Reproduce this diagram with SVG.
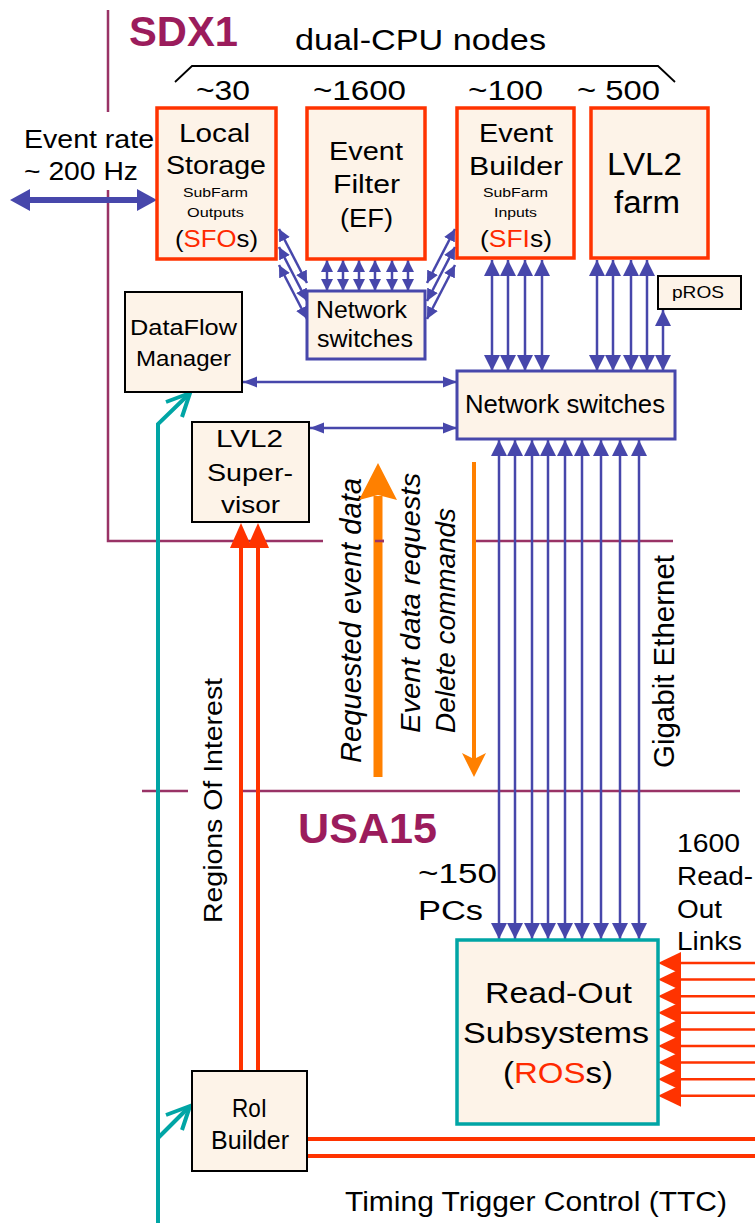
<svg xmlns="http://www.w3.org/2000/svg" width="755" height="1223" viewBox="0 0 755 1223">
<style>
text{font-family:"Liberation Sans",Arial,Helvetica,sans-serif;fill:#000}
.rd{fill:#ff2a00}
.ttl{font-weight:bold;fill:#9b1c5c}
.rb{fill:#fdf3e8;stroke:#ff3300;stroke-width:3.5}
.bb{fill:#fdf3e8;stroke:#4747ab;stroke-width:3}
.kb{fill:#fdf3e8;stroke:#000;stroke-width:2}
.tb{fill:#fdf3e8;stroke:#00a5a5;stroke-width:3.5}
.bl{stroke:#4747ab;fill:none;stroke-width:2.5}
.bnd{stroke:#993366;stroke-width:2.5;fill:none}
.tl{stroke:#00a5a5;stroke-width:4;fill:none}
.rl{stroke:#ff3300;stroke-width:4;fill:none}
.rl2{stroke:#ff3300;stroke-width:2.5;fill:none}
.it{font-style:italic}
</style>
<defs>
<marker id="mb" markerUnits="userSpaceOnUse" markerWidth="16" markerHeight="16" refX="16" refY="8" orient="auto-start-reverse"><path d="M0,0 L16,8 L0,16 z" fill="#4747ab"/></marker>
<marker id="ms" markerUnits="userSpaceOnUse" markerWidth="12" markerHeight="12" refX="12" refY="6" orient="auto-start-reverse"><path d="M0,0 L12,6 L0,12 z" fill="#4747ab"/></marker>
<marker id="mh" markerUnits="userSpaceOnUse" markerWidth="14" markerHeight="12" refX="14" refY="6" orient="auto-start-reverse"><path d="M0,0.5 L14,6 L0,11.5 z" fill="#4747ab"/></marker>
</defs>

<g id="boundaries">
<path class="bnd" d="M108,10 V112 M108,190 V541 H323 M375,541 H384 M472,541 H673"/>
<path class="bnd" d="M142,791 H188 M243,791 H740"/>
<text class="ttl" x="129" y="46" font-size="42" textLength="109" lengthAdjust="spacingAndGlyphs">SDX1</text>
<text class="ttl" x="298" y="843" font-size="42" textLength="139" lengthAdjust="spacingAndGlyphs">USA15</text>
</g>

<g id="labels">
<text x="295" y="50" font-size="30" textLength="251" lengthAdjust="spacingAndGlyphs">dual-CPU nodes</text>
<path d="M175,82 L192,66 H658 L675,82" fill="none" stroke="#000" stroke-width="1.8"/>
<text x="196" y="100" font-size="27" textLength="54" lengthAdjust="spacingAndGlyphs">~30</text>
<text x="313" y="100" font-size="27" textLength="93" lengthAdjust="spacingAndGlyphs">~1600</text>
<text x="468" y="100" font-size="27" textLength="75" lengthAdjust="spacingAndGlyphs">~100</text>
<text x="577" y="100" font-size="27" textLength="83" lengthAdjust="spacingAndGlyphs">~ 500</text>
<text x="24" y="148" font-size="25" textLength="130" lengthAdjust="spacingAndGlyphs">Event rate</text>
<text x="24" y="180" font-size="25" textLength="114" lengthAdjust="spacingAndGlyphs">~ 200 Hz</text>
<text x="418" y="883" font-size="27" textLength="79" lengthAdjust="spacingAndGlyphs">~150</text>
<text x="418" y="920" font-size="27" textLength="65" lengthAdjust="spacingAndGlyphs">PCs</text>
<text x="677" y="852" font-size="25" textLength="63" lengthAdjust="spacingAndGlyphs">1600</text>
<text x="677" y="885" font-size="25" textLength="76" lengthAdjust="spacingAndGlyphs">Read-</text>
<text x="677" y="918" font-size="25" textLength="45" lengthAdjust="spacingAndGlyphs">Out</text>
<text x="677" y="950" font-size="25" textLength="65" lengthAdjust="spacingAndGlyphs">Links</text>
<text x="345" y="1211" font-size="27" textLength="382" lengthAdjust="spacingAndGlyphs">Timing Trigger Control (TTC)</text>
<text transform="translate(674,768) rotate(-90)" font-size="30" textLength="213" lengthAdjust="spacingAndGlyphs">Gigabit Ethernet</text>
<text transform="translate(222,923) rotate(-90)" font-size="26" textLength="245" lengthAdjust="spacingAndGlyphs">Regions Of Interest</text>
<text class="it" transform="translate(361,763) rotate(-90)" font-size="29" textLength="285" lengthAdjust="spacingAndGlyphs">Requested event data</text>
<text class="it" transform="translate(420,733) rotate(-90)" font-size="28" textLength="260" lengthAdjust="spacingAndGlyphs">Event data requests</text>
<text class="it" transform="translate(455,733) rotate(-90)" font-size="28" textLength="225" lengthAdjust="spacingAndGlyphs">Delete commands</text>
</g>

<g id="connectors">
<!-- event rate -->
<line x1="28" y1="200" x2="140" y2="200" stroke="#4747ab" stroke-width="6"/>
<polygon points="10,200 30,189 30,211" fill="#4747ab"/>
<polygon points="157,200 137,189 137,211" fill="#4747ab"/>
<!-- EF to small switch -->
<g class="bl" marker-start="url(#ms)" marker-end="url(#ms)">
<line x1="327" y1="260" x2="327" y2="291"/>
<line x1="343" y1="260" x2="343" y2="291"/>
<line x1="359" y1="260" x2="359" y2="291"/>
<line x1="375" y1="260" x2="375" y2="291"/>
<line x1="392" y1="260" x2="392" y2="291"/>
<line x1="408" y1="260" x2="408" y2="291"/>
<line x1="279" y1="229" x2="307" y2="283"/>
<line x1="279" y1="247" x2="307" y2="301"/>
<line x1="279" y1="265" x2="307" y2="319"/>
<line x1="455" y1="229" x2="427" y2="283"/>
<line x1="455" y1="247" x2="427" y2="301"/>
<line x1="455" y1="265" x2="427" y2="319"/>
</g>
<!-- SFI / LVL2 to big switch -->
<g class="bl" marker-start="url(#mb)" marker-end="url(#mb)">
<line x1="492" y1="260" x2="492" y2="371"/>
<line x1="508" y1="260" x2="508" y2="371"/>
<line x1="525" y1="260" x2="525" y2="371"/>
<line x1="542" y1="260" x2="542" y2="371"/>
<line x1="597" y1="260" x2="597" y2="371"/>
<line x1="613" y1="260" x2="613" y2="371"/>
<line x1="631" y1="260" x2="631" y2="371"/>
<line x1="647" y1="260" x2="647" y2="371"/>
<line x1="663" y1="310" x2="663" y2="371"/>
<line x1="499" y1="440" x2="499" y2="939"/>
<line x1="515" y1="440" x2="515" y2="939"/>
<line x1="532" y1="440" x2="532" y2="939"/>
<line x1="548" y1="440" x2="548" y2="939"/>
<line x1="565" y1="440" x2="565" y2="939"/>
<line x1="582" y1="440" x2="582" y2="939"/>
<line x1="601" y1="440" x2="601" y2="939"/>
<line x1="620" y1="440" x2="620" y2="939"/>
<line x1="639" y1="440" x2="639" y2="939"/>
</g>
<g class="bl" stroke-width="2" marker-start="url(#mh)" marker-end="url(#mh)">
<line x1="243" y1="382" x2="457" y2="382"/>
<line x1="310" y1="428" x2="457" y2="428"/>
</g>
<!-- orange arrows -->
<rect x="373.5" y="496" width="9" height="281" fill="#ff8000"/>
<polygon points="378,463 397,500 378,495 359,500" fill="#ff8000"/>
<line x1="474" y1="462" x2="474" y2="762" stroke="#ff8000" stroke-width="4"/>
<polygon points="474,777 462,753 474,759 486,753" fill="#ff8000"/>
<path class="bnd" d="M375,541 H384"/>
<!-- red: RoI to supervisor -->
<path class="rl" d="M241,1071 V544 M258,1071 V544"/>
<polygon points="241,523 252,548 230,548" fill="#ff3300"/>
<polygon points="258,523 269,548 247,548" fill="#ff3300"/>
<!-- red: RoI builder to right -->
<path class="rl" d="M307,1139 H755 M307,1156 H755"/>
<!-- red: read-out links -->
<g>
<path class="rl2" d="M676,963 H755 M676,979.6 H755 M676,996.2 H755 M676,1012.8 H755 M676,1029.4 H755 M676,1046 H755 M676,1062.6 H755 M676,1079.2 H755 M676,1095.8 H755"/>
<g fill="#ff3300">
<polygon points="658,963 681,952 681,974"/>
<polygon points="658,979.6 681,968.6 681,990.6"/>
<polygon points="658,996.2 681,985.2 681,1007.2"/>
<polygon points="658,1012.8 681,1001.8 681,1023.8"/>
<polygon points="658,1029.4 681,1018.4 681,1040.4"/>
<polygon points="658,1046 681,1035 681,1057"/>
<polygon points="658,1062.6 681,1051.6 681,1073.6"/>
<polygon points="658,1079.2 681,1068.2 681,1090.2"/>
<polygon points="658,1095.8 681,1084.8 681,1106.8"/>
</g>
</g>
<!-- teal TTC -->
<path class="tl" d="M158,1223 V424 L188,395"/>
<path class="tl" d="M166,402 L190,393 L182,417"/>
<path class="tl" d="M158,1138 L188,1108"/>
<path class="tl" d="M166,1115 L190,1106 L182,1130"/>
</g>

<g id="sfo">
<rect class="rb" x="157" y="108" width="119" height="151"/>
<text x="179" y="142" font-size="26" textLength="71" lengthAdjust="spacingAndGlyphs">Local</text>
<text x="166" y="174" font-size="26" textLength="100" lengthAdjust="spacingAndGlyphs">Storage</text>
<text x="183" y="197" font-size="13" textLength="65" lengthAdjust="spacingAndGlyphs">SubFarm</text>
<text x="187" y="217" font-size="13" textLength="57" lengthAdjust="spacingAndGlyphs">Outputs</text>
<text x="175" y="247" font-size="24" textLength="83" lengthAdjust="spacingAndGlyphs">(<tspan class="rd">SFO</tspan>s)</text>
</g>
<g id="ef">
<rect class="rb" x="307" y="108" width="118" height="151"/>
<text x="329" y="160" font-size="26" textLength="74" lengthAdjust="spacingAndGlyphs">Event</text>
<text x="333" y="193" font-size="26" textLength="67" lengthAdjust="spacingAndGlyphs">Filter</text>
<text x="340" y="227" font-size="26" textLength="53" lengthAdjust="spacingAndGlyphs">(EF)</text>
</g>
<g id="sfi">
<rect class="rb" x="457" y="108" width="117" height="150"/>
<text x="479" y="142" font-size="26" textLength="74" lengthAdjust="spacingAndGlyphs">Event</text>
<text x="469" y="175" font-size="26" textLength="94" lengthAdjust="spacingAndGlyphs">Builder</text>
<text x="483" y="197" font-size="13" textLength="65" lengthAdjust="spacingAndGlyphs">SubFarm</text>
<text x="494" y="217" font-size="13" textLength="43" lengthAdjust="spacingAndGlyphs">Inputs</text>
<text x="480" y="247" font-size="24" textLength="72" lengthAdjust="spacingAndGlyphs">(<tspan class="rd">SFI</tspan>s)</text>
</g>
<g id="lvl2farm">
<rect class="rb" x="591" y="108" width="117" height="150"/>
<text x="607" y="175" font-size="31" textLength="75" lengthAdjust="spacingAndGlyphs">LVL2</text>
<text x="614" y="213" font-size="31" textLength="66" lengthAdjust="spacingAndGlyphs">farm</text>
</g>
<g id="efswitch">
<rect class="bb" x="307" y="291" width="118" height="68"/>
<text x="316" y="318" font-size="23" textLength="91" lengthAdjust="spacingAndGlyphs">Network</text>
<text x="317" y="347" font-size="23" textLength="96" lengthAdjust="spacingAndGlyphs">switches</text>
</g>
<g id="dfm">
<rect class="kb" x="125" y="292" width="117" height="100"/>
<text x="130" y="335" font-size="22" textLength="107" lengthAdjust="spacingAndGlyphs">DataFlow</text>
<text x="136" y="366" font-size="22" textLength="95" lengthAdjust="spacingAndGlyphs">Manager</text>
</g>
<g id="l2sv">
<rect class="kb" x="192" y="422" width="117" height="100"/>
<text x="216" y="447" font-size="24" textLength="67" lengthAdjust="spacingAndGlyphs">LVL2</text>
<text x="207" y="481" font-size="24" textLength="86" lengthAdjust="spacingAndGlyphs">Super-</text>
<text x="221" y="513" font-size="24" textLength="59" lengthAdjust="spacingAndGlyphs">visor</text>
</g>
<g id="pros">
<rect class="kb" x="658" y="276" width="83" height="33"/>
<text x="672" y="298" font-size="17" textLength="52" lengthAdjust="spacingAndGlyphs">pROS</text>
</g>
<g id="mainswitch">
<rect class="bb" x="457" y="371" width="218" height="68"/>
<text x="465" y="413" font-size="25" textLength="200" lengthAdjust="spacingAndGlyphs">Network switches</text>
</g>
<g id="ros">
<rect class="tb" x="457" y="940" width="201" height="184"/>
<text x="485" y="1003" font-size="29" textLength="147" lengthAdjust="spacingAndGlyphs">Read-Out</text>
<text x="463" y="1043" font-size="29" textLength="186" lengthAdjust="spacingAndGlyphs">Subsystems</text>
<text x="503" y="1083" font-size="29" textLength="110" lengthAdjust="spacingAndGlyphs">(<tspan class="rd">ROS</tspan>s)</text>
</g>
<g id="roib">
<rect class="kb" x="192" y="1071" width="115" height="100"/>
<text x="232" y="1117" font-size="25" textLength="35" lengthAdjust="spacingAndGlyphs">RoI</text>
<text x="211" y="1149" font-size="25" textLength="78" lengthAdjust="spacingAndGlyphs">Builder</text>
</g>
</svg>
